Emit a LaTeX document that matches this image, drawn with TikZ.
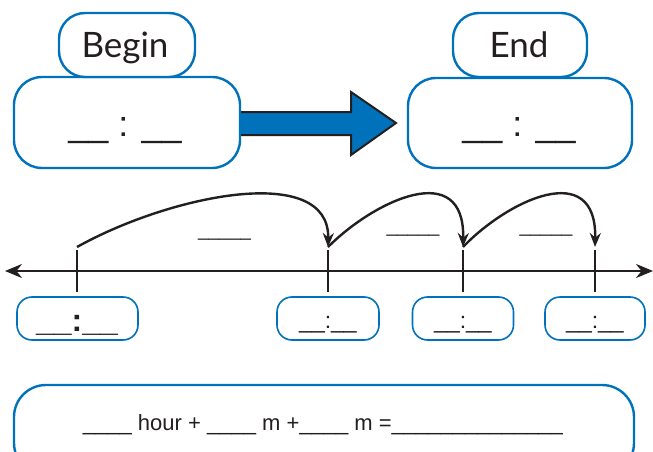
\documentclass[tikz,border=0pt]{standalone}
\usepackage{fontspec}
\setmainfont{Lato}
\newfontfamily\libsans{Liberation Sans}
\usetikzlibrary{arrows.meta}
\definecolor{boxblue}{RGB}{0,114,188}
\definecolor{ink}{RGB}{35,31,32}
\tikzset{
  bluebox/.style={draw=boxblue, line width=2.4pt, fill=white, rounded corners=#1, inner sep=0pt},
  bluebox/.default=25pt,
  numline/.style={draw=ink, line width=2.4pt},
  hop/.style={draw=ink, line width=2.4pt, -{Stealth[length=14pt,width=11pt]}},
  blank/.style={font=\libsans\fontsize{19}{19}\selectfont, text=ink, inner sep=0pt, anchor=base},
  bigtime/.style={font=\libsans\fontsize{36}{36}\selectfont, text=ink, anchor=base, inner sep=0pt},
  smalltime/.style={font=\libsans\fontsize{23}{23}\selectfont, text=ink, anchor=base, inner sep=0pt},
}
\begin{document}
\begin{tikzpicture}[x=1pt,y=-1pt]
\useasboundingbox (0,0) rectangle (653,452);
\clip (0,0) rectangle (653,452);
% arrow between boxes
\draw[ink, line width=2pt, fill=boxblue, line join=miter]
  (232,112) -- (351,112) -- (351,92) -- (396,123) -- (351,155) -- (351,135) -- (232,135);
% top boxes
\node[bluebox=28pt, minimum width=226pt, minimum height=91pt] (begintime) at (127,122.5) {};
\node[bluebox=26pt, minimum width=136pt, minimum height=64pt] (beginlbl) at (127,45) {};
\node[font=\fontsize{35}{35}\selectfont, text=ink, anchor=base] at (125,58) {Begin};
\node[bigtime] at (125,136) {\_\_ : \_\_};
\node[bluebox=28pt, minimum width=224pt, minimum height=90pt] (endtime) at (520,123) {};
\node[bluebox=26pt, minimum width=134pt, minimum height=64pt] (endlbl) at (520,45) {};
\node[font=\fontsize{35}{35}\selectfont, text=ink, anchor=base] at (519,58) {End};
\node[bigtime] at (519,136) {\_\_ : \_\_};
% number line
\coordinate (L) at (5,271);
\coordinate (R) at (653,271);
\draw[numline, {Stealth[length=17pt,width=14pt]}-{Stealth[length=17pt,width=14pt]}] (L) -- (R);
\foreach \i/\x in {1/77,2/328,3/463,4/595}{
  \coordinate (t\i) at (\x,247);
  \coordinate (b\i) at (\x,292);
  \draw[numline, line cap=butt] (\x,250) -- (b\i);
}
% hops
\draw[hop] (t1) .. controls (170,195) and (330,162) .. (t2);
\draw[hop] (t2) .. controls (375,200) and (465,158) .. (t3);
\draw[hop] (t3) .. controls (508,200) and (597,158) .. (t4);
\node[blank] (w1) at (224.5,236) {\_\_\_\_\_};
\node[blank] (w2) at (413,232) {\_\_\_\_\_};
\node[blank] (w3) at (546,232) {\_\_\_\_\_};
% small time boxes
\node[bluebox=15pt, line width=1.6pt, minimum width=121pt, minimum height=43pt] (s1) at (77.5,318.5) {};
\node[bluebox=15pt, line width=1.6pt, minimum width=102pt, minimum height=43pt] (s2) at (328,318.5) {};
\node[bluebox=15pt, line width=1.6pt, minimum width=101pt, minimum height=43pt] (s3) at (463,318.5) {};
\node[bluebox=15pt, line width=1.6pt, minimum width=100pt, minimum height=43pt] (s4) at (595,318.5) {};
\node[font=\libsans\bfseries\fontsize{32}{32}\selectfont, text=ink, anchor=base, inner sep=0pt] at (77,331) {\_\_:\_\_};
\node[smalltime] at (328,328) {\_\_:\_\_};
\node[smalltime] at (463,328) {\_\_:\_\_};
\node[smalltime] at (595,328) {\_\_:\_\_};
% bottom box
\node[bluebox=32pt, minimum width=620pt, minimum height=90pt] (sum) at (324,430) {};
\node[font=\libsans\fontsize{22}{22}\selectfont, text=ink, anchor=base] at (323,430) {\_\_\_\_ hour + \_\_\_\_ m +\_\_\_\_ m =\_\_\_\_\_\_\_\_\_\_\_\_\_\_};
\end{tikzpicture}
\end{document}
